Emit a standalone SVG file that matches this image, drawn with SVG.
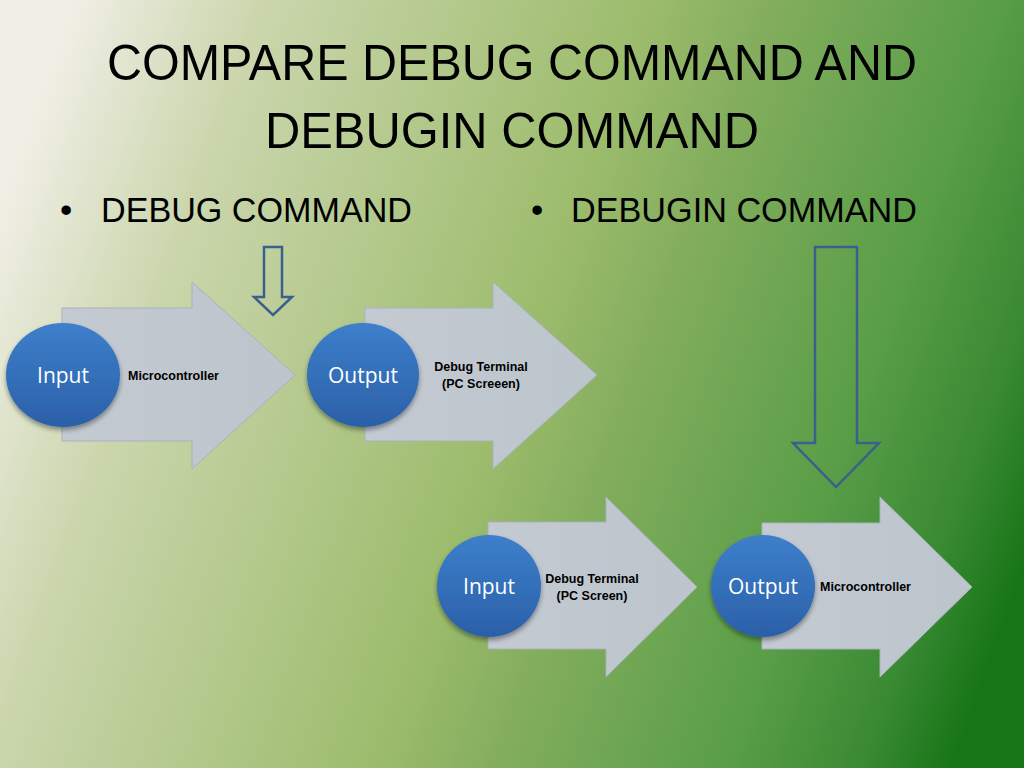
<svg xmlns="http://www.w3.org/2000/svg" width="1024" height="768" viewBox="0 0 1024 768">
<defs>
<linearGradient id="bg" gradientUnits="userSpaceOnUse" x1="0" y1="200" x2="1024" y2="568">
<stop offset="0" stop-color="#f0efe6"/>
<stop offset="0.165" stop-color="#cbd6ad"/>
<stop offset="0.5" stop-color="#9cbc6c"/>
<stop offset="0.6" stop-color="#84ae5e"/>
<stop offset="0.8" stop-color="#5a9e48"/>
<stop offset="0.92" stop-color="#3a8a33"/>
<stop offset="1" stop-color="#177517"/>
</linearGradient>
<linearGradient id="arrowFill" x1="0" y1="0" x2="1" y2="0">
<stop offset="0" stop-color="#c3cad2"/>
<stop offset="1" stop-color="#bcc4cc"/>
</linearGradient>
<linearGradient id="circ" x1="0" y1="0" x2="0" y2="1">
<stop offset="0" stop-color="#3d7fcb"/>
<stop offset="1" stop-color="#2b60a8"/>
</linearGradient>
<filter id="sh" x="-20%" y="-20%" width="140%" height="150%">
<feGaussianBlur in="SourceAlpha" stdDeviation="2.5"/>
<feOffset dy="3" result="b"/>
<feComponentTransfer><feFuncA type="linear" slope="0.4"/></feComponentTransfer>
<feMerge><feMergeNode/><feMergeNode in="SourceGraphic"/></feMerge>
</filter>
</defs>
<style>
.title{font-family:"Liberation Sans",Arial,sans-serif;font-size:50px;fill:#000;text-anchor:middle}
.bullet{font-family:"Liberation Sans",Arial,sans-serif;font-size:35px;fill:#000}
.big{fill:url(#arrowFill);stroke:#a9b1ba;stroke-width:1}
.circ{fill:url(#circ);filter:url(#sh)}
.clabel{font-family:"Open Sans","Liberation Sans",sans-serif;font-size:21px;fill:#fff;text-anchor:middle}
.lbl{font-family:"Liberation Sans",Arial,sans-serif;font-size:12.5px;font-weight:bold;fill:#000}
.lblc{font-family:"Liberation Sans",Arial,sans-serif;font-size:12.5px;font-weight:bold;fill:#000;text-anchor:middle}
.down{fill:none;stroke:#3c5f8e;stroke-width:2.5;stroke-linejoin:miter}
</style>
<rect x="0" y="0" width="1024" height="768" fill="url(#bg)"/>
<text class="title" x="512" y="80" textLength="810" lengthAdjust="spacingAndGlyphs">COMPARE DEBUG COMMAND AND</text>
<text class="title" x="512" y="148" textLength="494" lengthAdjust="spacingAndGlyphs">DEBUGIN COMMAND</text>
<text class="bullet" x="60" y="222">•</text>
<text class="bullet" x="101" y="222" textLength="311" lengthAdjust="spacingAndGlyphs">DEBUG COMMAND</text>
<text class="bullet" x="531" y="222">•</text>
<text class="bullet" x="571" y="222" textLength="346" lengthAdjust="spacingAndGlyphs">DEBUGIN COMMAND</text>

<g id="connectors">
<polygon class="down" points="264,247 282,247 282,297 292,297 273,315 254,297 264,297"/>
<polygon class="down" points="815,247 857,247 857,443 879,443 836,487 793,443 815,443"/>
</g>

<g id="node-debug-input">
<polygon class="big" points="62,308 192,308 192,282 295,375 192,469 192,441 62,441"/>
<ellipse class="circ" cx="63" cy="375" rx="57" ry="52"/>
<text class="clabel" x="63" y="383">Input</text>
<text class="lbl" x="128" y="380">Microcontroller</text>
</g>
<g id="node-debug-output">
<polygon class="big" points="365,308 493,308 493,282 597,375 493,469 493,441 365,441"/>
<ellipse class="circ" cx="363" cy="375" rx="56" ry="52"/>
<text class="clabel" x="363" y="383">Output</text>
<text class="lblc" x="481" y="371">Debug Terminal</text>
<text class="lblc" x="481" y="388">(PC Screeen)</text>
</g>
<g id="node-debugin-input">
<polygon class="big" points="488,522 606,522 606,497 697,587 606,677 606,649 488,649"/>
<ellipse class="circ" cx="489" cy="586" rx="52" ry="51"/>
<text class="clabel" x="489" y="594">Input</text>
<text class="lblc" x="592" y="583">Debug Terminal</text>
<text class="lblc" x="592" y="600">(PC Screen)</text>
</g>
<g id="node-debugin-output">
<polygon class="big" points="762,523 880,523 880,497 972,587 880,677 880,649 762,649"/>
<ellipse class="circ" cx="763" cy="586" rx="52" ry="51"/>
<text class="clabel" x="763" y="594">Output</text>
<text class="lbl" x="820" y="591">Microcontroller</text>
</g>
</svg>
